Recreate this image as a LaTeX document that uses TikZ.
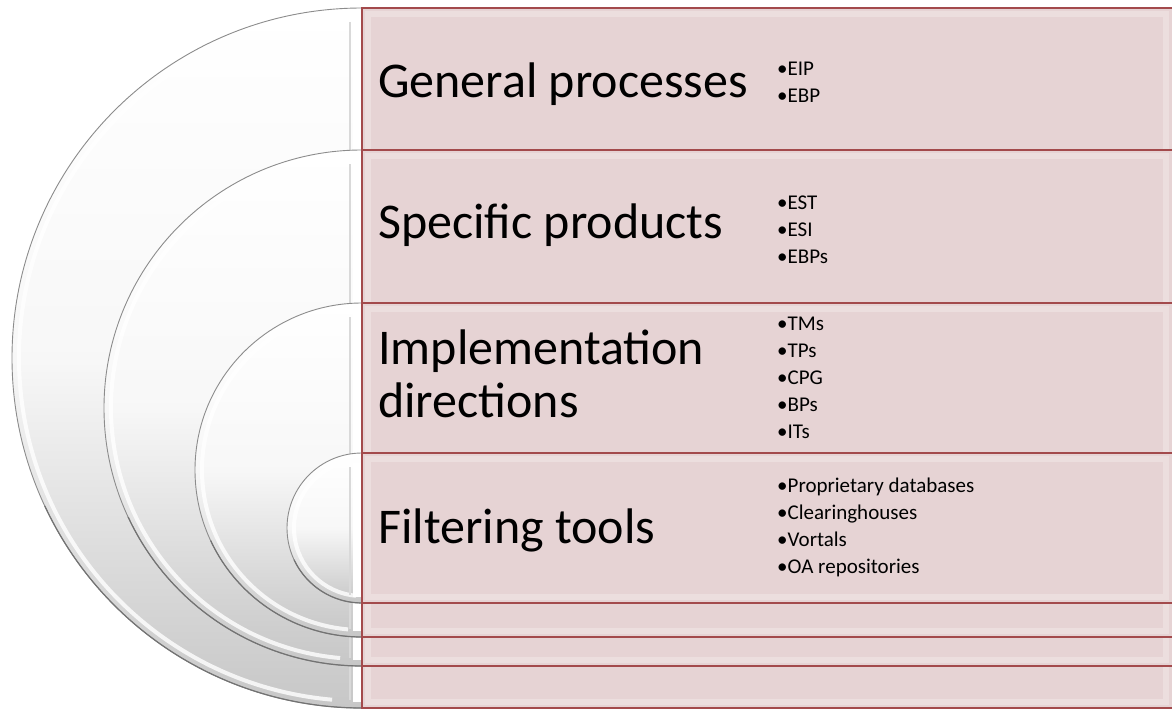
\documentclass[tikz,border=0pt]{standalone}
\usepackage{fontspec}
\setmainfont{Carlito}
\definecolor{rectfill}{HTML}{E6D3D4}
\definecolor{rectline}{HTML}{A34A4C}
\definecolor{discline}{HTML}{8C8C8C}
\begin{document}
\begin{tikzpicture}[x=1pt,y=-1pt,
  discfill/.style={top color=white, bottom color=black!22, middle color=black!3},
  discedge/.style={draw=discline, line width=0.9pt},
  discshadow/.style={draw=black!55, line width=1.2pt},
  discbevel/.style={draw=white, line width=4pt, opacity=0.8},
  band/.style={fill=rectfill, draw=rectline, line width=2.2pt},
  bandbevel/.style={draw=white, line width=6pt, opacity=0.25},
  title/.style={anchor=base west, inner sep=0, font=\fontsize{50}{53}\selectfont},
  items/.style={anchor=west, inner sep=0, align=left, font=\fontsize{21}{27}\selectfont}]
\useasboundingbox (0,0) rectangle (1172,709);
\fill[white] (0,0) rectangle (1172,709);
% nested half discs
\foreach \cy/\r in {358/350,408/258,470/167,528/75}{
  \shade[discfill] (362,\cy-\r) arc[start angle=90,end angle=270,radius=\r pt] -- cycle;
  \draw[discbevel] ([shift={(95:\r pt-7pt)}]362,\cy) arc[start angle=95,end angle=265,radius=\r pt-7pt];
  \draw[white, line width=8pt] (357,\cy-\r+10) -- (357,\cy+\r-6);
  \draw[black!15, line width=2pt] (350,\cy-\r+14) -- (350,\cy+\r-8);
  \draw[discedge] (362,\cy-\r) arc[start angle=90,end angle=270,radius=\r pt];
  \draw[discshadow] ([shift={(205:\r pt)}]362,\cy) arc[start angle=205,end angle=270,radius=\r pt];
}
% bands
\foreach \t/\b in {8/708,150/666,303/637,453/603}{
  \draw[band] (362,\t) rectangle (1180,\b);
  \draw[bandbevel] (368,\t+6) rectangle (1166,\b-6);
}
% titles
\node[title] (t1) at (378,97) {General processes};
\node[title] (t2) at (378,238) {Specific products};
\node[title, anchor=west, align=left] (t3) at (378,374) {Implementation\\directions};
\node[title] (t4) at (378,543) {Filtering tools};
% item lists
\node[items] (l1) at (777,82) {•EIP\\•EBP};
\node[items] (l2) at (777,230) {•EST\\•ESI\\•EBPs};
\node[items] (l3) at (777,378) {•TMs\\•TPs\\•CPG\\•BPs\\•ITs};
\node[items] (l4) at (777,527) {•Proprietary databases\\•Clearinghouses\\•Vortals\\•OA repositories};
\end{tikzpicture}
\end{document}
